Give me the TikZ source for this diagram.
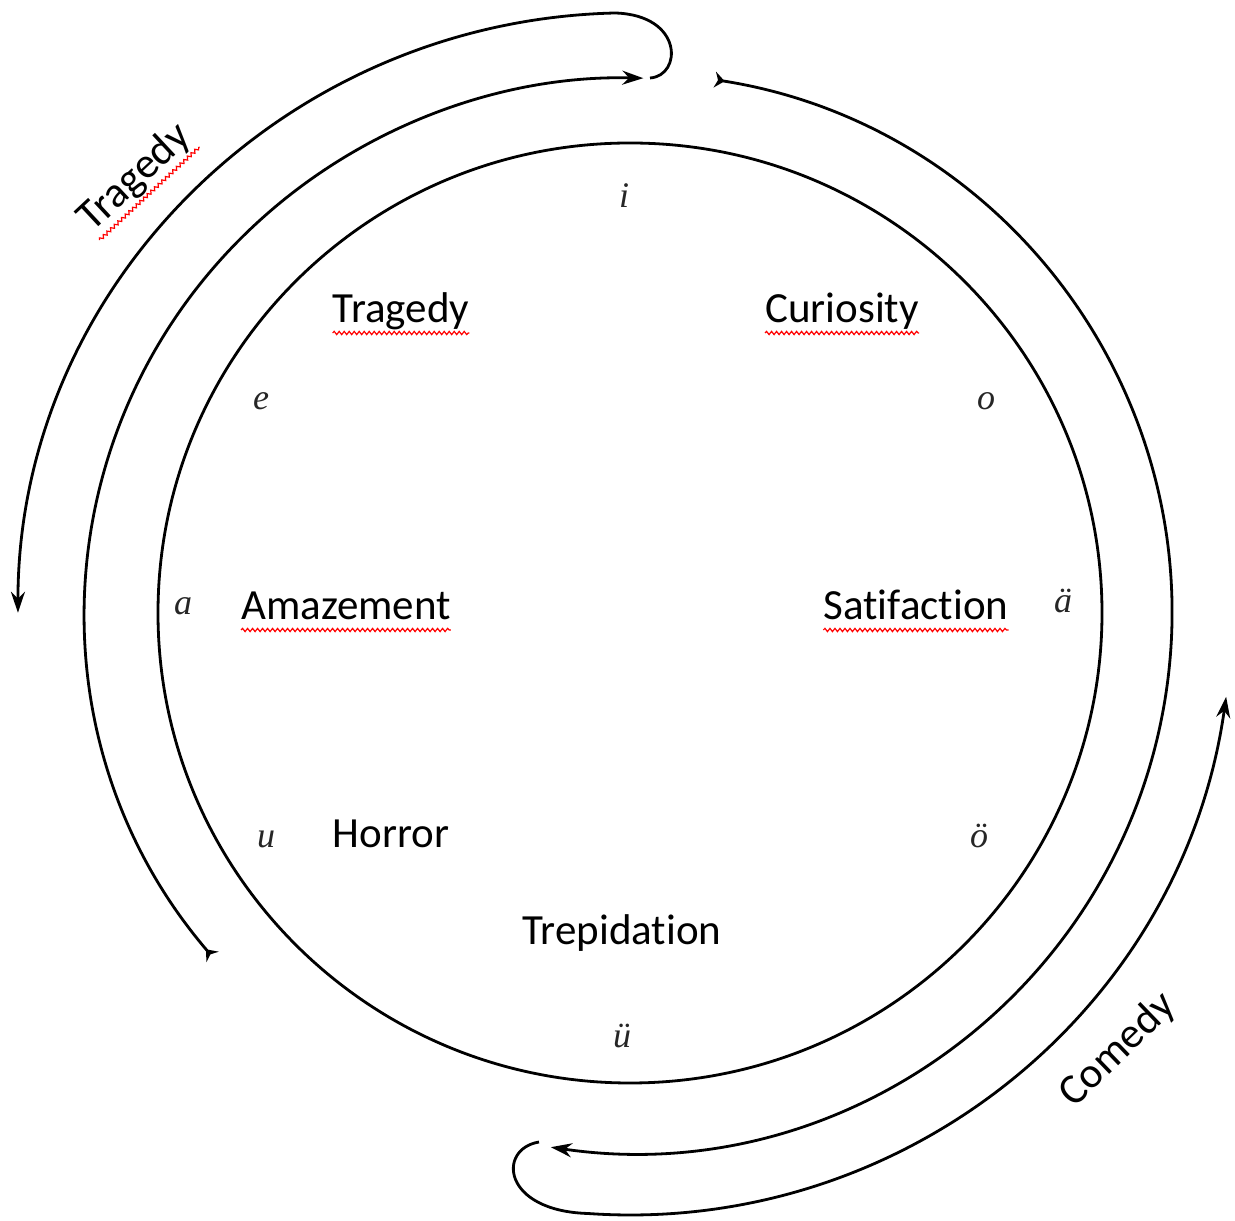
\documentclass[tikz,border=0pt]{standalone}
\usepackage{fontspec}
\setmainfont{Liberation Serif}
\newfontfamily\labfont[Ligatures=CommonOff]{Carlito}
\usetikzlibrary{arrows.meta,calc,decorations.pathmorphing}
\begin{document}
\begin{tikzpicture}[x=1pt,y=1pt,
  stroke/.style={line width=2.8pt, black},
  headend/.style={-{Stealth[length=21pt,width=14pt]}},
  tailhead/.style={{Stealth[reversed,length=10pt,width=16pt]}-{Stealth[length=21pt,width=14pt]}},
  word/.style={font=\labfont\fontsize{43}{50}\selectfont, inner sep=0pt, anchor=base},
  vowel/.style={font=\fontsize{36}{40}\selectfont\itshape, text=black!85, inner sep=0pt, anchor=base},
  squig/.style={red, line width=1.2pt, decorate, decoration={snake, amplitude=1.6pt, segment length=5pt}}
]
\useasboundingbox (0,0) rectangle (1235,1221);
\coordinate (C) at (630,608);

% inner circle
\draw[stroke] (C) circle[x radius=472, y radius=470];

% Tragedy path: inner arc (left), hook at top, outer arc (left)
\coordinate (tl1) at ($(C)+(220:545 and 535)$);
\draw[stroke, tailhead] (tl1) arc[start angle=220, end angle=88.6, x radius=545, y radius=535];
\coordinate (th1) at (650,1143);
\coordinate (th2) at (615,1208);
\draw[stroke, headend] (th1) .. controls (682,1145) and (684,1206) .. (th2)
  arc[start angle=91.4, end angle=180, x radius=612, y radius=600];

% Comedy path: inner arc (right), hook at bottom, outer arc (right)
\coordinate (cr1) at ($(C)+(81:542 and 540)$);
\draw[stroke, tailhead] (cr1) arc[start angle=81, end angle=-98.4, x radius=542, y radius=540];
\coordinate (ch1) at (539,79);
\coordinate (ch2) at (588,7.5);
\draw[stroke, headend] (ch1) .. controls (497,72) and (502,10) .. (ch2)
  arc[start angle=266, end angle=352, radius=602];

% words
\node[word] (wtrag) at (401,898) {Tragedy};
\node[word] (wcur) at (842,898) {Curiosity};
\node[word] (wama) at (346,601) {Amazement};
\node[word] (wsat) at (916,601) {Satifaction};
\node[word] (whor) at (391,373) {Horror};
\node[word] (wtrep) at (622,276) {Trepidation};
\node[word, anchor=center, rotate=43] (wtrag2) at (135,1043) {Tragedy};
\node[word, anchor=center, rotate=44] (wcom) at (1118,171) {Comedy};

% spell-check underlines
\foreach \n in {wtrag,wcur,wama,wsat,wtrag2}{
  \draw[squig] ($(\n.base west)!10pt!-90:(\n.base east)$) -- ($(\n.base east)!10pt!90:(\n.base west)$);
}

% vowels
\node[vowel] (vi) at (624,1013) {i};
\node[vowel] (ve) at (261,811) {e};
\node[vowel] (vo) at (986,811) {o};
\node[vowel] (va) at (183,606) {a};
\node[vowel] (vae) at (1063,608) {ä};
\node[vowel] (vu) at (266,373) {u};
\node[vowel] (voe) at (979,373) {ö};
\node[vowel] (vue) at (622,173) {ü};
\end{tikzpicture}
\end{document}
